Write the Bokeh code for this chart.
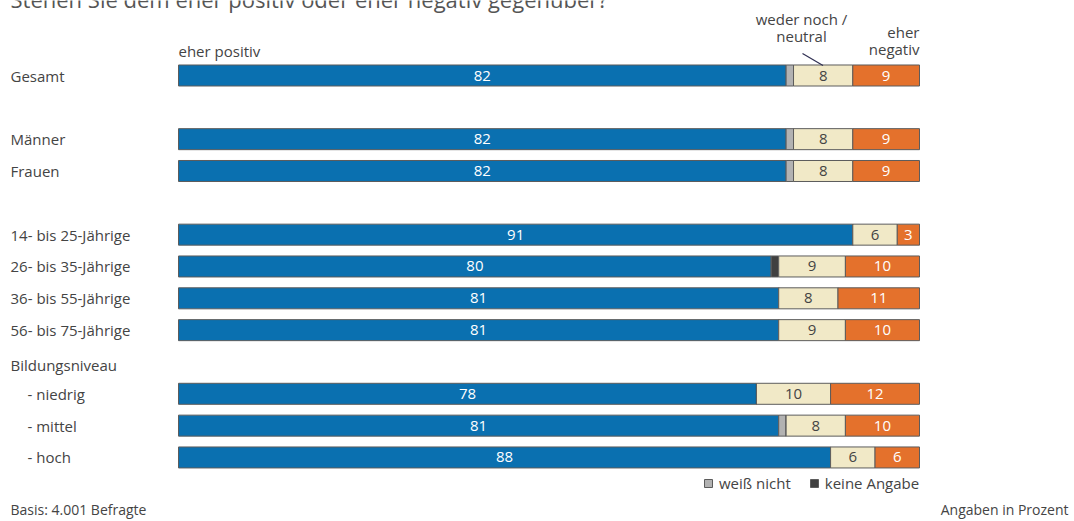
from bokeh.plotting import figure
from bokeh.models import ColumnDataSource, Range1d, Legend, LegendItem
from bokeh.core.properties import value
from bokeh.embed import file_html
from bokeh.resources import INLINE

# ---------------- data ----------------
categories = ["Gesamt", "Männer", "Frauen", "14- bis 25-Jährige", "26- bis 35-Jährige",
              "36- bis 55-Jährige", "56- bis 75-Jährige", "- niedrig", "- mittel", "- hoch"]
positiv = [82, 82, 82, 91, 80, 81, 81, 78, 81, 88]
weiss_nicht = [1, 1, 1, 0, 0, 0, 0, 0, 1, 0]
keine_angabe = [0, 0, 0, 0, 1, 0, 0, 0, 0, 0]
neutral = [8, 8, 8, 6, 9, 8, 9, 10, 8, 6]
negativ = [9, 9, 9, 3, 10, 11, 10, 12, 10, 6]
group_header = "Bildungsniveau"
series_labels = ["eher positiv", "weiß nicht", "keine Angabe", "weder noch /\nneutral", "eher\nnegativ"]
title_text = "Stehen Sie dem eher positiv oder eher negativ gegenüber?"
footer_left = "Basis: 4.001 Befragte"
footer_right = "Angaben in Prozent"

# ---------------- layout ----------------
row_pos = [0, 2, 3, 5, 6, 7, 8, 10, 11, 12]
header_row = 9
indent = [0, 0, 0, 0, 0, 0, 0, 1, 1, 1]
colors = ["#0a70b0", "#b2b2b2", "#404040", "#f1e9c7", "#e4712c"]
label_colors = ["#ffffff", None, None, "#444444", "#ffffff"]
TXT = "#444444"
FONT = value("Open Sans")
FS = "15px"

W, H = 1074, 521
PXX = 7.41      # px per percent
PXY = 31.83     # px per row
X0, Y0 = 178, 75   # px of x=0 / row 0


def px2x(px):   # px -> data x
    return (px - X0) / PXX


def py2y(py):   # px -> data y
    return (py - Y0) / PXY


p = figure(width=W, height=H, output_backend="svg", toolbar_location=None,
           x_range=Range1d(-X0 / PXX, (W - X0) / PXX),
           y_range=Range1d((H - Y0) / PXY, -Y0 / PXY),
           x_axis_location=None, y_axis_location=None, min_border=0)
p.grid.visible = False
p.outline_line_color = None
p.background_fill_color = "white"

keys = ["pos", "wn", "ka", "neu", "neg"]
series = [positiv, weiss_nicht, keine_angabe, neutral, negativ]
src = ColumnDataSource(dict(row=row_pos, **{k: v for k, v in zip(keys, series)}))
rs = p.hbar_stack(keys, y="row", height=0.66, fill_color=colors,
                  line_color="#5c5c5c", line_width=1, source=src)

# segment value labels
lx, ly, lt, lc = [], [], [], []
for i, r in enumerate(row_pos):
    start = 0
    for s, vals in enumerate(series):
        v = vals[i]
        if label_colors[s] is not None and v > 0:
            lx.append(start + v / 2)
            ly.append(r)
            lt.append(str(v))
            lc.append(label_colors[s])
        start += v
p.text(x="x", y="y", text="t", text_color="c",
       source=ColumnDataSource(dict(x=lx, y=ly, t=lt, c=lc)),
       text_align="center", text_baseline="middle", text_font=FONT, text_font_size=FS)

# category labels
p.text(x=[px2x(10 + 17 * k) for k in indent], y=row_pos, text=categories,
       text_align="left", text_baseline="middle", text_font=FONT,
       text_font_size=FS, text_color=TXT)
p.text(x=[px2x(10)], y=[header_row], y_offset=3, text=[group_header],
       text_align="left", text_baseline="middle", text_font=FONT,
       text_font_size=FS, text_color=TXT)

# series header labels
p.text(x=[0], y=[py2y(50)], text=[series_labels[0]], text_align="left",
       text_baseline="middle", text_font=FONT, text_font_size=FS, text_color=TXT)
p.text(x=[px2x(801)], y=[py2y(27)], text=[series_labels[3]], text_align="center",
       text_baseline="middle", text_font=FONT, text_font_size=FS, text_color=TXT,
       text_line_height=0.85)
p.text(x=[100], y=[py2y(39.5)], text=[series_labels[4]], text_align="right",
       text_baseline="middle", text_font=FONT, text_font_size=FS, text_color=TXT,
       text_line_height=0.85)
p.segment(x0=[px2x(802)], y0=[py2y(53)], x1=[px2x(822.5)], y1=[py2y(65)],
          line_color="#2f2f52", line_width=1.2)

# title (cut at the top like the reference)
p.text(x=[px2x(10)], y=[py2y(-1.5)], text=[title_text], text_align="left",
       text_baseline="alphabetic", text_font=FONT, text_font_size="22px", text_color="#555555")

# footer
p.text(x=[px2x(10)], y=[py2y(509)], text=[footer_left], text_align="left",
       text_baseline="alphabetic", text_font=FONT, text_font_size="14px", text_color=TXT)
p.text(x=[px2x(1068)], y=[py2y(509)], text=[footer_right], text_align="right",
       text_baseline="alphabetic", text_font=FONT, text_font_size="14px", text_color=TXT)

legend = Legend(items=[LegendItem(label=value(series_labels[1]), renderers=[rs[1]]),
                       LegendItem(label=value(series_labels[2]), renderers=[rs[2]])],
                location=(703, 28), orientation="horizontal",
                glyph_width=10, glyph_height=10, label_standoff=6, spacing=18,
                padding=0, margin=0, border_line_color=None, background_fill_alpha=0,
                label_text_font="Open Sans", label_text_font_size=FS,
                label_text_color=TXT, label_height=14)
p.add_layout(legend)

open("out.html", "w").write(file_html(p, INLINE))
